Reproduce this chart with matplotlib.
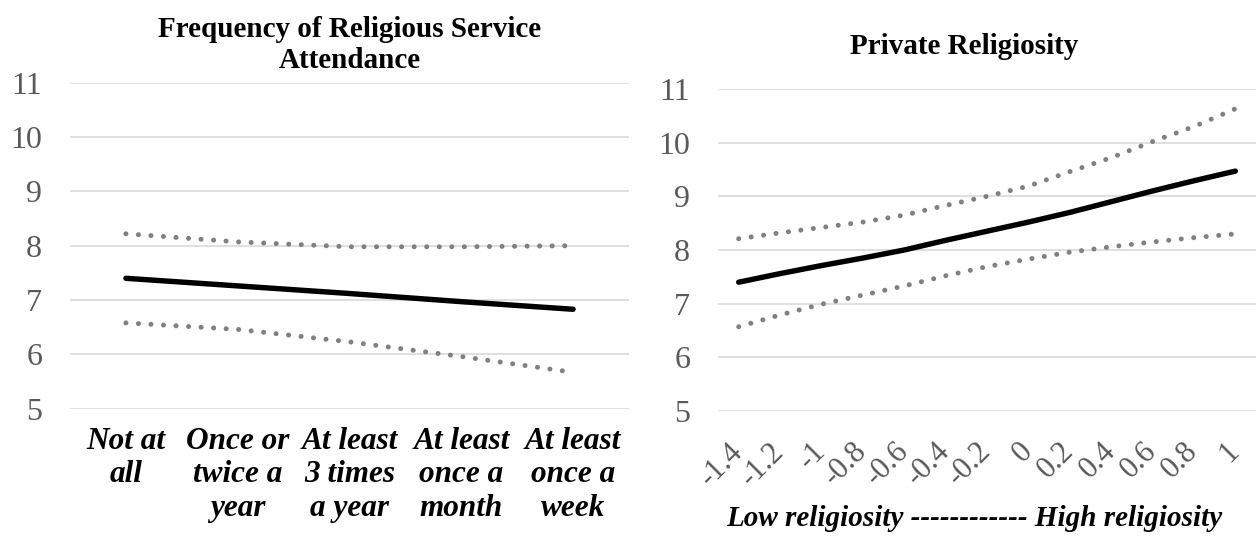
import matplotlib
matplotlib.use("Agg")
import matplotlib.pyplot as plt

# ---- data -------------------------------------------------------------
attend_labels = ["Not at\nall", "Once or\ntwice a\nyear", "At least\n3 times\na year",
                 "At least\nonce a\nmonth", "At least\nonce a\nweek"]
attend_est = [7.40, 7.26, 7.12, 6.97, 6.83]
attend_upper = [8.22, 8.07, 7.98, 7.98, 8.00]
attend_lower = [6.58, 6.46, 6.23, 5.96, 5.67]

priv_labels = ["-1.4", "-1.2", "-1", "-0.8", "-0.6", "-0.4", "-0.2",
               "0", "0.2", "0.4", "0.6", "0.8", "1"]
priv_est = [7.40, 7.56, 7.71, 7.85, 8.00, 8.18, 8.35, 8.52, 8.70, 8.90, 9.10, 9.29, 9.47]
priv_upper = [8.21, 8.32, 8.42, 8.52, 8.65, 8.83, 9.00, 9.19, 9.46, 9.72, 10.02, 10.30, 10.63]
priv_lower = [6.57, 6.79, 6.99, 7.16, 7.33, 7.52, 7.69, 7.83, 7.96, 8.06, 8.15, 8.23, 8.30]

y_ticks = [5, 6, 7, 8, 9, 10, 11]

# ---- style ------------------------------------------------------------
SERIF = "Liberation Serif"
GRID = "#d9d9d9"
TICK_GREY = "#595959"
DOT_GREY = "#808080"

W, H = 1256, 540
fig = plt.figure(figsize=(W / 100, H / 100), dpi=100)


def px_axes(x0, x1, y_top, y_bot):
    return fig.add_axes([x0 / W, 1 - y_bot / H, (x1 - x0) / W, (y_bot - y_top) / H])


def style_axes(ax, n):
    ax.set_xlim(-0.5, n - 0.5)
    ax.set_ylim(5, 11)
    ax.set_yticks(y_ticks)
    ax.set_yticklabels([str(t) for t in y_ticks], fontfamily=SERIF,
                       fontsize=23, color=TICK_GREY)
    ax.grid(axis="y", color=GRID, linewidth=1.2)
    ax.set_axisbelow(True)
    for s in ax.spines.values():
        s.set_visible(False)
    ax.tick_params(axis="both", length=0)
    ax.tick_params(axis="y", pad=20)


def draw_series(ax, est, upper, lower):
    x = list(range(len(est)))
    dot = dict(color=DOT_GREY, linewidth=3.6, linestyle=(0, (0.01, 2.5)),
               dash_capstyle="round", solid_capstyle="round")
    ax.plot(x, upper, **dot)
    ax.plot(x, lower, **dot)
    ax.plot(x, est, color="black", linewidth=3.9, solid_capstyle="round")


# ---- left panel: service attendance ----------------------------------
ax1 = px_axes(70, 629, 82.7, 408.7)
style_axes(ax1, len(attend_labels))
draw_series(ax1, attend_est, attend_upper, attend_lower)
ax1.set_xticks(range(len(attend_labels)))
ax1.set_xticklabels(attend_labels, fontfamily=SERIF, fontsize=22.5,
                    fontweight="bold", fontstyle="italic", color="black",
                    linespacing=1.2, ha="center", va="top")
ax1.tick_params(axis="x", pad=13)
fig.text(349.5 / W, 1 - 45 / H, "Frequency of Religious Service\nAttendance",
         ha="center", va="center", fontfamily=SERIF, fontsize=21,
         fontweight="bold", linespacing=1.2)

# ---- right panel: private religiosity ---------------------------------
ax2 = px_axes(718, 1256, 89, 411)
style_axes(ax2, len(priv_labels))
draw_series(ax2, priv_est, priv_upper, priv_lower)
ax2.set_xticks(range(len(priv_labels)))
ax2.set_xticklabels(priv_labels, fontfamily=SERIF, fontsize=22, color=TICK_GREY,
                    rotation=45, ha="right", va="center", rotation_mode="anchor")
ax2.tick_params(axis="x", pad=26)
fig.text(964 / W, 1 - 46 / H, "Private Religiosity", ha="center", va="center",
         fontfamily=SERIF, fontsize=21, fontweight="bold")
fig.text(974 / W, 1 - 518 / H, "Low religiosity ------------ High religiosity",
         ha="center", va="center", fontfamily=SERIF, fontsize=21,
         fontweight="bold", fontstyle="italic")

fig.savefig("out.png", dpi=100)
